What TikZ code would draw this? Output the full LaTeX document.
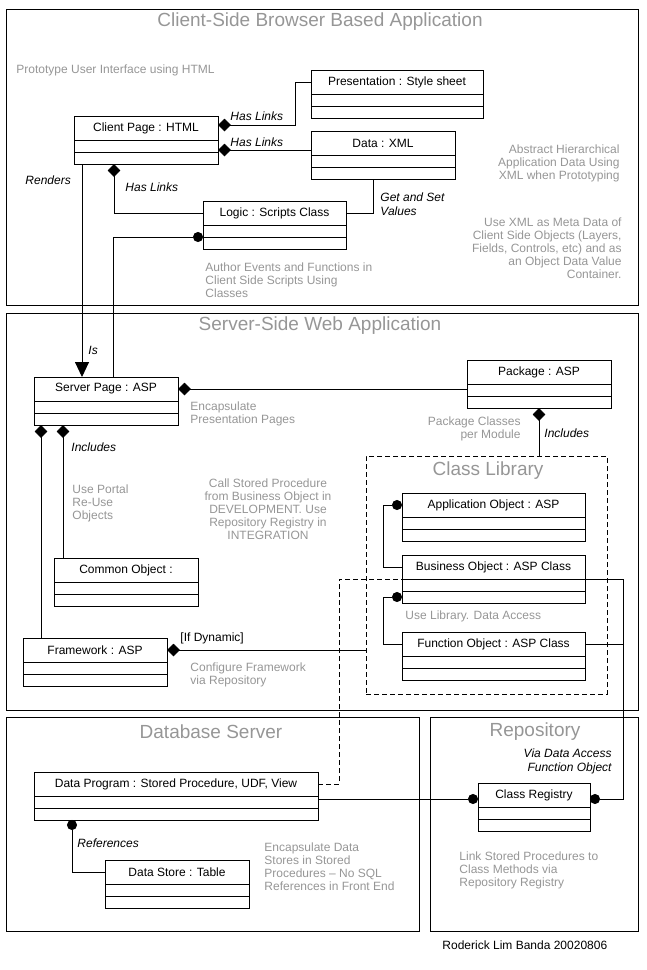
\documentclass[tikz,border=0pt]{standalone}
\usepackage{fontspec}
\setmainfont{Liberation Sans}
\usetikzlibrary{arrows.meta,positioning}
\definecolor{notegray}{RGB}{150,150,150}

\begin{document}
\begin{tikzpicture}[x=1pt, y=-1pt, line width=0.9pt,
          font=\fontsize{12}{13}\selectfont,
          panel/.style={draw,anchor=north west,inner sep=0pt,outer sep=0pt},
          hdr/.style={draw,anchor=north west,minimum height=24pt,inner sep=0pt,outer sep=0pt},
          cmp/.style={draw,minimum height=12pt,inner sep=0pt,outer sep=0pt},
          ttl/.style={text=notegray,font=\fontsize{19}{21}\selectfont,inner sep=0pt},
          note/.style={text=notegray,inner sep=0pt},
          lbl/.style={font=\fontsize{12}{14}\selectfont\itshape,inner sep=0pt},
          has/.style={{Diamond[length=13pt,width=12.5pt]}-},
          dot/.style={{Circle[length=10pt]}-},
          isarr/.style={-{Triangle[length=15pt,width=14pt]}},
          dashline/.style={dash pattern=on 5pt off 3pt}]
        \useasboundingbox (0,0) rectangle (647,970);

        % panels
        \node[panel,minimum width=632pt,minimum height=296pt] (client) at (6,9) {};
        \node[panel,minimum width=632pt,minimum height=397pt] (server) at (6,313) {};
        \node[panel,minimum width=413pt,minimum height=214pt] (db) at (6,717) {};
        \node[panel,minimum width=208pt,minimum height=214pt] (repo) at (430,717) {};
        \node[panel,dashline,minimum width=241pt,minimum height=238pt] (lib) at (366,456) {};

        \node[ttl] (t-client) at (320,22) {Client-Side Browser Based Application};
        \node[ttl] (t-server) at (320,326) {Server-Side Web Application};
        \node[ttl] (t-lib) at (488,471) {Class Library};
        \node[ttl] (t-db) at (211,732) {Database Server};
        \node[ttl] (t-repo) at (535,732) {Repository};

        % classes
        \foreach \n/\x/\y/\w/\t in {pres/311/70/172/{Presentation : Style sheet},
            cp/74/116/144/{Client Page : HTML}, data/311/131/144/{Data : XML},
            logic/203/201/143/{Logic : Scripts Class}, sp/34/377/144/{Server Page : ASP},
            pkg/467/360/144/{Package : ASP}, common/54/558/144/{Common Object :},
            fw/23/638/144/{Framework : ASP}, app/402/493/183/{Application Object : ASP},
            bus/402/555/183/{Business Object : ASP Class}, fun/402/632/183/{Function Object : ASP Class},
            dp/34/772/284/{Data Program : Stored Procedure, UDF, View},
            reg/478/783/112/{Class Registry}, ds/105/860/144/{Data Store : Table}}
        {
          \node[hdr,minimum width=\w pt] (\n) at (\x,\y) {\t};
          \node[cmp,minimum width=\w pt,below=0pt of \n] (\n-a) {};
          \node[cmp,minimum width=\w pt,below=0pt of \n-a] (\n-b) {};
        }

        % client side links
        \draw[has] ([yshift=3pt]cp.east) -- ++(77,0) |- (pres.west);
        \draw[has] ([yshift=2pt]cp-a.south east) -- ([yshift=2pt]cp-a.south east -| data.west);
        \draw[has] ([xshift=40pt]cp-b.south west) |- (logic.west);
        \draw ([xshift=62pt]data-b.south west) |- (logic.east);
        \draw[isarr] ([xshift=8pt]cp-b.south west) -- ([xshift=48pt]sp.north west);
        \draw[dot] (logic-a.south west) -| ([xshift=79pt]sp.north west);

        \node[lbl,anchor=west] (l-has1) at (230,116) {Has Links};
        \node[lbl,anchor=west] (l-has2) at (230,142) {Has Links};
        \node[lbl,anchor=west] (l-has3) at (125,187) {Has Links};
        \node[lbl,anchor=west] (l-renders) at (25,180) {Renders};
        \node[lbl,anchor=north west,align=left] (l-getset) at (380,192) {Get and Set\\Values};
        \node[lbl,anchor=west] (l-is) at (88,350) {Is};

        % server side links
        \draw[has] (sp.east) -- (sp.east -| pkg-a.west);
        \draw[has] (pkg-b.south) -- (pkg-b.south |- lib.north);
        \draw[has] ([xshift=7pt]sp-b.south west) -- ([xshift=7pt]sp-b.south west |- fw.north);
        \draw[has] ([xshift=29pt]sp-b.south west) -- ([xshift=29pt]sp-b.south west |- common.north);
        \draw[has] (fw.east) -- (fw.east -| lib.west);
        \draw[dot] (app.west) -- ++(-19,0) |- (bus.west);
        \draw[dot] (bus-b.west) -- ++(-19,0) |- (fun.west);

        \node[lbl,anchor=west] (l-inc1) at (544,433) {Includes};
        \node[lbl,anchor=west] (l-inc2) at (71,447) {Includes};
        \node[inner sep=0pt,anchor=west] (l-dyn) at (180,638) {[If Dynamic]};

        % database and repository links
        \draw[dashline] (dp.east) -- ++(21,0) |- (bus.south west);
        \draw[dot] ([yshift=-4pt]reg.east) -| ([xshift=38pt]bus.south east) -- (bus.south east);
        \draw (fun.east) -- ++(38,0);
        \draw[dot] ([yshift=-4pt]reg.west) -- ([yshift=-4pt]reg.west -| dp.east);
        \draw[dot] ([xshift=38pt]dp-b.south west) |- (ds.west);

        \node[lbl,anchor=west] (l-refs) at (77,843) {References};
        \node[lbl,anchor=north east,align=right] (l-via) at (612,748) {Via Data Access\\Function Object};

        % notes
        \node[note,anchor=west] (n-proto) at (16,70) {Prototype User Interface using HTML};
        \node[note,anchor=north east,align=right] (n-abstract) at (620,144) {Abstract Hierarchical\\Application Data Using\\XML when Prototyping};
        \node[note,anchor=north east,align=right] (n-meta) at (622,217) {Use XML as Meta Data of\\Client Side Objects (Layers,\\Fields, Controls, etc) and as\\an Object Data Value\\Container.};
        \node[note,anchor=north west,align=left] (n-author) at (205,262) {Author Events and Functions in\\Client Side Scripts Using\\Classes};
        \node[note,anchor=north west,align=left] (n-encap) at (190,401) {Encapsulate\\Presentation Pages};
        \node[note,anchor=north east,align=right] (n-pkg) at (521,416) {Package Classes\\per Module};
        \node[note,anchor=north west,align=left] (n-portal) at (72,484) {Use Portal\\Re-Use\\Objects};
        \node[note,anchor=north,align=center] (n-call) at (268,478) {Call Stored Procedure\\from Business Object in\\DEVELOPMENT. Use\\Repository Registry in\\INTEGRATION};
        \node[note,anchor=west] (n-uselib) at (405,616) {Use Library. Data Access};
        \node[note,anchor=north west,align=left] (n-config) at (190,662) {Configure Framework\\via Repository};
        \node[note,anchor=north west,align=left] (n-stores) at (264,842) {Encapsulate Data\\Stores in Stored\\Procedures – No SQL\\References in Front End};
        \node[note,anchor=north west,align=left] (n-link) at (459,851) {Link Stored Procedures to\\Class Methods via\\Repository Registry};
        \node[inner sep=0pt,anchor=west] (n-author2) at (442,945) {Roderick Lim Banda 20020806};
      \end{tikzpicture}
\end{document}
